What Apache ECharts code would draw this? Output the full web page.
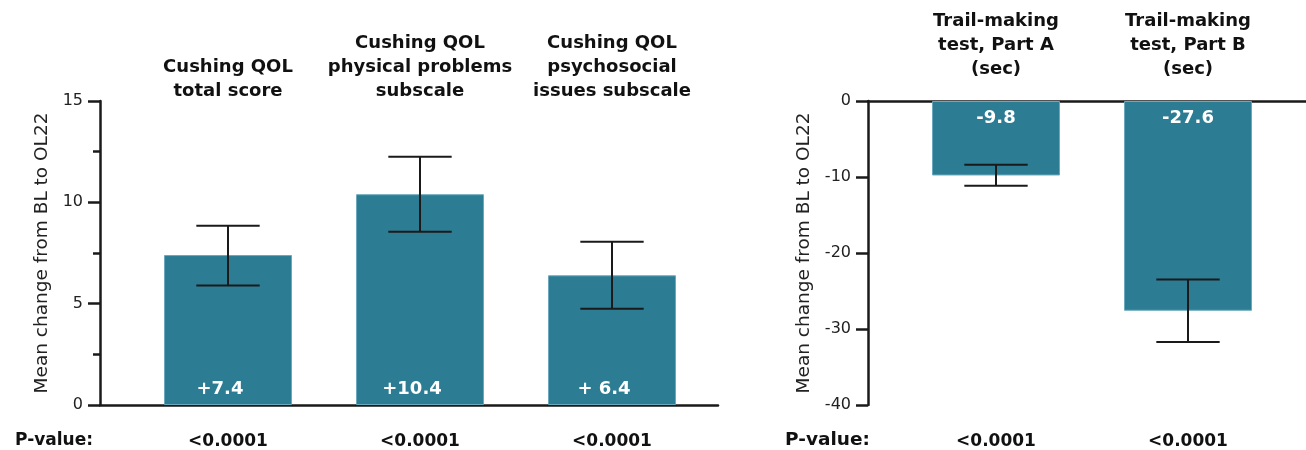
<!DOCTYPE html>
<html>
<head>
<meta charset="utf-8">
<script src="https://cdn.jsdelivr.net/npm/echarts@6/dist/echarts.min.js"></script>
<style>
html,body{margin:0;padding:0;background:#fff;}
#chart{width:1306px;height:450px;}
</style>
</head>
<body>
<div id="chart"></div>
<script>
// ---- Data ----
const leftCategories = ['Cushing QOL\ntotal score', 'Cushing QOL\nphysical problems\nsubscale', 'Cushing QOL\npsychosocial\nissues subscale'];
const leftValues = [7.4, 10.4, 6.4];
const leftValueLabels = ['+7.4', '+10.4', '+ 6.4'];
const leftErrLow = [5.9, 8.55, 4.75];
const leftErrHigh = [8.85, 12.25, 8.05];
const leftPValues = ['<0.0001', '<0.0001', '<0.0001'];

const rightCategories = ['Trail-making\ntest, Part A\n(sec)', 'Trail-making\ntest, Part B\n(sec)'];
const rightValues = [-9.8, -27.6];
const rightValueLabels = ['-9.8', '-27.6'];
const rightErrLow = [-11.15, -31.7];
const rightErrHigh = [-8.4, -23.5];
const rightPValues = ['<0.0001', '<0.0001'];

const leftAxisRange = { min: 0, max: 15, interval: 5 };
const rightAxisRange = { min: -40, max: 0, interval: 10 };
const yAxisTitle = 'Mean change from BL to OL22';
const pValueTitle = 'P-value:';

// ---- Styles ----
const FONT = 'DejaVu Sans';
const BAR_COLOR = '#2c7c94';
const INK = '#1a1a1a';
const AXIS_W = 2.5;

const chart = echarts.init(document.getElementById('chart'), null, { renderer: 'canvas' });

function errRender(params, api) {
  const x = api.value(0);
  const lo = api.coord([x, api.value(1)]);
  const hi = api.coord([x, api.value(2)]);
  const half = api.size([1, 0])[0] * 0.165;
  const st = { stroke: INK, lineWidth: 2 };
  return {
    type: 'group',
    children: [
      { type: 'line', shape: { x1: lo[0], y1: lo[1], x2: hi[0], y2: hi[1] }, style: st },
      { type: 'line', shape: { x1: lo[0] - half, y1: lo[1], x2: lo[0] + half, y2: lo[1] }, style: st },
      { type: 'line', shape: { x1: hi[0] - half, y1: hi[1], x2: hi[0] + half, y2: hi[1] }, style: st }
    ]
  };
}

function frameY(range, gridIndex, nameGap, minor) {
  return {
    gridIndex: gridIndex, type: 'value', min: range.min, max: range.max, interval: range.interval,
    name: yAxisTitle, nameLocation: 'middle', nameGap: nameGap,
    nameTextStyle: { fontFamily: FONT, fontSize: 18.5, color: '#222' },
    axisLine: { show: true, onZero: false, lineStyle: { color: INK, width: AXIS_W } },
    axisTick: { show: true, length: 12, lineStyle: { color: INK, width: AXIS_W } },
    minorTick: { show: minor, splitNumber: 2, length: 7, lineStyle: { color: INK, width: AXIS_W } },
    axisLabel: { fontFamily: FONT, fontSize: 16, color: '#222', margin: 17 },
    splitLine: { show: false }
  };
}
function hiddenY(range, gridIndex) {
  return { gridIndex: gridIndex, type: 'value', min: range.min, max: range.max, show: false, splitLine: { show: false } };
}
function frameX(gridIndex, pos) {
  return {
    gridIndex: gridIndex, type: 'value', min: 0, max: 1, position: pos,
    axisLine: { show: true, onZero: false, lineStyle: { color: INK, width: AXIS_W } },
    axisTick: { show: false }, axisLabel: { show: false }, splitLine: { show: false }
  };
}
function catX(gridIndex, data, pos, margin, size) {
  return {
    gridIndex: gridIndex, type: 'category', data: data, position: pos,
    axisLine: { show: false, onZero: false }, axisTick: { show: false }, splitLine: { show: false },
    axisLabel: { interval: 0, margin: margin, fontFamily: FONT, fontWeight: 'bold', fontSize: size, color: '#111', lineHeight: 24 }
  };
}
function gridAt(left, width) {
  return { left: left, width: width, top: 101, height: 304, containLabel: false, outerBoundsMode: 'none' };
}

const option = {
  animation: false,
  backgroundColor: '#fff',
  title: [
    { text: pValueTitle, left: 15, top: 432, padding: 0, textStyle: { fontFamily: FONT, fontWeight: 'bold', fontSize: 17, color: '#111' } },
    { text: pValueTitle, left: 785, top: 431, padding: 0, textStyle: { fontFamily: FONT, fontWeight: 'bold', fontSize: 18.5, color: '#111' } }
  ],
  grid: [
    gridAt(100, 618),
    gridAt(132, 576),
    gridAt(868, 438),
    gridAt(900, 384)
  ],
  xAxis: [
    frameX(0, 'bottom'),
    catX(1, leftCategories, 'top', -2, 18),
    catX(1, leftPValues, 'bottom', 25, 17),
    frameX(2, 'top'),
    catX(3, rightCategories, 'top', 20, 18),
    catX(3, rightPValues, 'bottom', 25, 17)
  ],
  yAxis: [
    frameY(leftAxisRange, 0, 48, true),
    hiddenY(leftAxisRange, 1),
    frameY(rightAxisRange, 2, 54, false),
    hiddenY(rightAxisRange, 3)
  ],
  series: [
    {
      type: 'bar', xAxisIndex: 1, yAxisIndex: 1, data: leftValues, barWidth: 128,
      itemStyle: { color: BAR_COLOR, borderColor: '#6aa9bb', borderWidth: 1 },
      label: { show: true, position: 'insideBottom', distance: 7, offset: [-8, 0],
        formatter: function (p) { return leftValueLabels[p.dataIndex]; },
        fontFamily: FONT, fontWeight: 'bold', fontSize: 18, color: '#fff' }
    },
    {
      type: 'custom', xAxisIndex: 1, yAxisIndex: 1, z: 5, renderItem: errRender,
      data: leftValues.map(function (v, i) { return [i, leftErrLow[i], leftErrHigh[i]]; })
    },
    {
      type: 'bar', xAxisIndex: 4, yAxisIndex: 3, data: rightValues, barWidth: 128,
      itemStyle: { color: BAR_COLOR, borderColor: '#6aa9bb', borderWidth: 1 },
      label: { show: true, position: 'insideTop', distance: 8,
        formatter: function (p) { return rightValueLabels[p.dataIndex]; },
        fontFamily: FONT, fontWeight: 'bold', fontSize: 18, color: '#fff' }
    },
    {
      type: 'custom', xAxisIndex: 4, yAxisIndex: 3, z: 5, renderItem: errRender,
      data: rightValues.map(function (v, i) { return [i, rightErrLow[i], rightErrHigh[i]]; })
    }
  ]
};
chart.setOption(option);
</script>
</body>
</html>
